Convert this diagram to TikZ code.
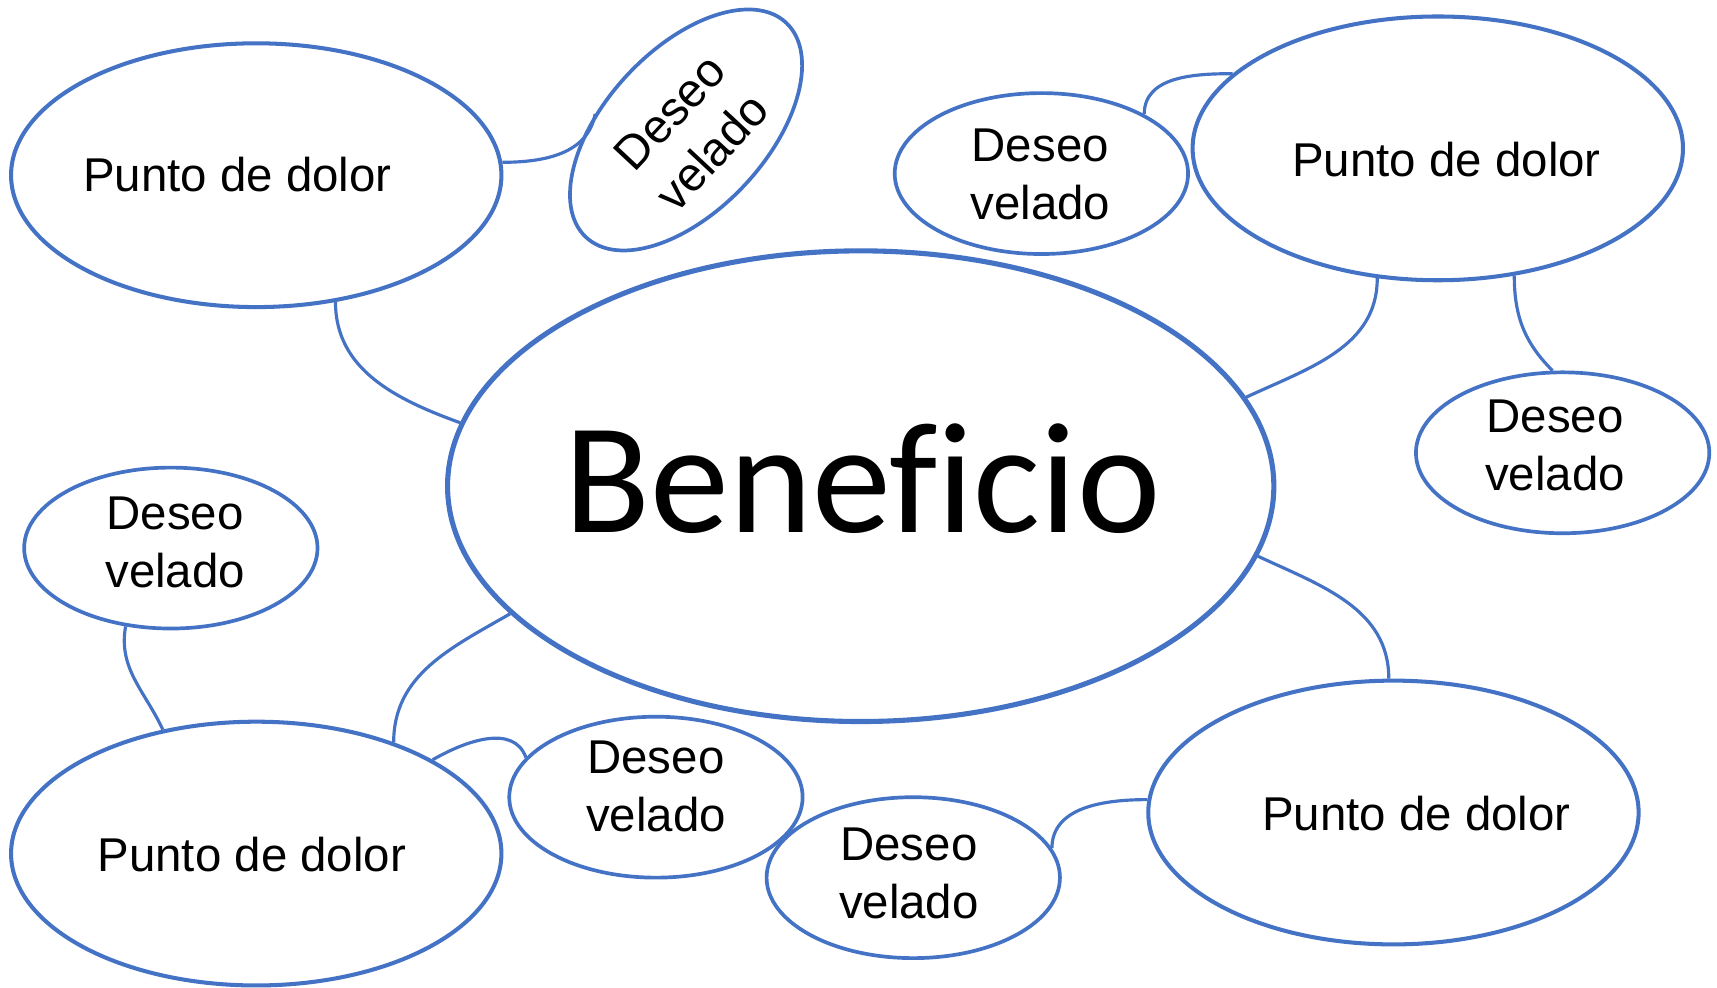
\documentclass[tikz,border=0pt]{standalone}
\usepackage{fontspec}
\usetikzlibrary{shapes.geometric}
\newfontfamily\lblfont{Liberation Sans}
\newfontfamily\benfont[Ligatures=NoCommon]{Carlito}
\definecolor{blueline}{HTML}{4472C4}
\begin{document}
\begin{tikzpicture}[x=0.01095cm,y=-0.01095cm,
  pd/.style={ellipse, draw=blueline, line width=1.15pt, minimum width=4.906cm, minimum height=2.639cm, inner sep=0pt},
  dv/.style={ellipse, draw=blueline, line width=1.05pt, minimum width=2.935cm, minimum height=1.610cm, inner sep=0pt},
  ben/.style={ellipse, draw=blueline, line width=1.45pt, minimum width=8.267cm, minimum height=4.709cm, inner sep=0pt},
  lbl/.style={font=\lblfont\fontsize{13.5}{16.5}\selectfont, align=center, inner sep=0pt, text=black},
  bentext/.style={font=\benfont\fontsize{45}{50}\selectfont, inner sep=0pt, text=black},
  conn/.style={draw=blueline, line width=0.9pt}]
\useasboundingbox (0,0) rectangle (1568,902);
\fill[white] (0,0) rectangle (1568,902);
% ellipses
\node[pd] (pd1) at (234,160) {};
\node[dv, rotate=47] (dvt) at (626.5,118.7) {};
\node[dv] (dvm) at (951,158.5) {};
\node[pd] (pd2) at (1313,135.5) {};
\node[dv] (dvr) at (1427,413.5) {};
\node[ben] (ben) at (786,444) {};
\node[dv] (dvl) at (156,500.5) {};
\node[pd] (pd3) at (234,779.5) {};
\node[dv] (dvbm) at (599,728) {};
\node[dv] (dvb) at (834,801.5) {};
\node[pd] (pd4) at (1272.5,742) {};
% labels
\node[lbl] (t1) at (216.9,159.8) {Punto de dolor};
\node[lbl, rotate=47] (t2) at (631,121) {Deseo\\velado};
\node[lbl] (t3) at (950,159.5) {Deseo\\velado};
\node[lbl] (t4) at (1321,146) {Punto de dolor};
\node[lbl] (t5) at (1420,406.5) {Deseo\\velado};
\node[bentext] (t6) at (787.5,437) {Beneficio};
\node[lbl] (t7) at (160,495) {Deseo\\velado};
\node[lbl] (t8) at (230,780) {Punto de dolor};
\node[lbl] (t9) at (599,718.5) {Deseo\\velado};
\node[lbl] (t10) at (830,797.5) {Deseo\\velado};
\node[lbl] (t11) at (1293.5,743) {Punto de dolor};
% connectors
\draw[conn] (pd1.3) to[out=0,in=-100] (dvt.123);
\draw[conn] (pd1.-58.7) to[out=-90,in=160] (ben.171.3);
\draw[conn] (dvm.30) to[out=90,in=180] (pd2.160.2);
\draw[conn] (pd2.-115.7) to[out=-90,in=25] (ben.13.1);
\draw[conn] (pd2.-59) to[out=-90,in=135] (dvr.97);
\draw[conn] (dvl.-120) to[out=-100,in=115] (pd3.127.2);
\draw[conn] (ben.200.9) to[out=210,in=90] (pd3.39.5);
\draw[conn] (pd3.28.8) to[out=30,in=110] (dvbm.163.8);
\draw[conn] (ben.-10.2) to[out=-25,in=90] (pd4.92);
\draw[conn] (dvb.12.6) to[out=90,in=180] (pd4.177.2);
\end{tikzpicture}
\end{document}
